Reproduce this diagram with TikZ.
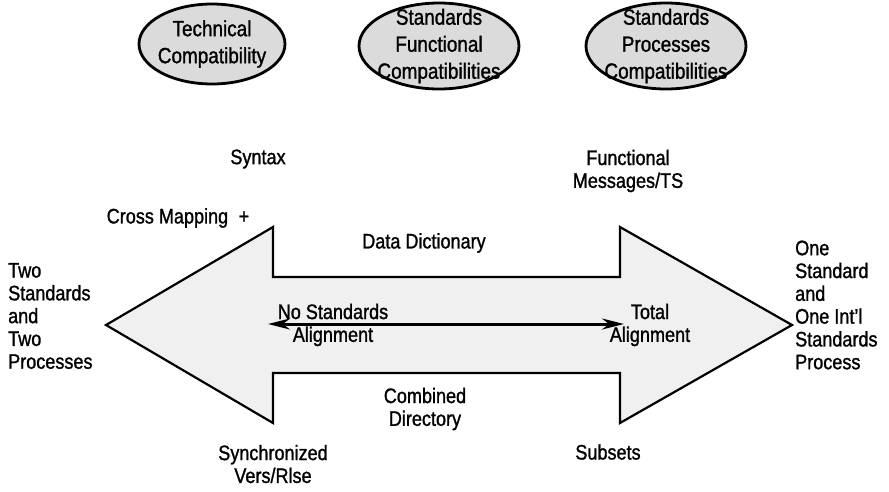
\documentclass[tikz,border=0pt]{standalone}
\usepackage{fontspec}
\setmainfont{Liberation Sans}[FakeStretch=0.86, UprightFeatures={FakeBold=1.2}]
\usetikzlibrary{arrows.meta,shapes.geometric}
\begin{document}
\begin{tikzpicture}[x=1pt,y=-1pt,
  lbl/.style={font=\fontsize{21}{22.8}\selectfont, align=center, inner sep=0pt},
  lblw/.style={lbl, align=left, anchor=west},
  oval/.style={ellipse, draw, line width=2.8pt, fill=black!14, inner sep=0pt},
  otext/.style={font=\fontsize{22}{27}\selectfont, align=center, inner sep=0pt},
  bigarrow/.style={draw, line width=2.2pt, line join=miter, fill=black!6},
  thin/.style={line width=3pt, {Stealth[length=22pt,width=11pt]}-{Stealth[length=22pt,width=11pt]}}]
\useasboundingbox (0,0) rectangle (889,491);

% ellipses
\node[oval, minimum width=146pt, minimum height=80pt] (e1) at (212,44) {};
\node[otext] (t1) at (e1) {Technical\\Compatibility};
\node[oval, minimum width=160pt, minimum height=86pt] (e2) at (439,46) {};
\node[otext] (t2) at (e2) {Standards\\Functional\\Compatibilities};
\node[oval, minimum width=160pt, minimum height=86pt] (e3) at (666,46) {};
\node[otext] (t3) at (e3) {Standards\\Processes\\Compatibilities};

% big double arrow
\coordinate (ltip) at (106,325);
\coordinate (rtip) at (792,325);
\path[bigarrow] (ltip) -- (273,227) -- (273,277) -- (620,277) -- (620,227) -- (rtip)
  -- (620,423) -- (620,373) -- (273,373) -- (273,423) -- cycle;

% inner arrow
\coordinate (al) at (268,324);
\coordinate (ar) at (624,324);
\draw[thin] (al) -- (ar);

% labels
\node[lbl] (syn) at (258,159) {Syntax};
\node[lbl] (fun) at (628,171) {Functional\\Messages/TS};
\node[lbl] (cm) at (178,218) {Cross Mapping\enspace+};
\node[lbl] (dd) at (424,243) {Data Dictionary};
\node[lblw] (left) at (8,316) {Two\\Standards\\and\\Two\\Processes};
\node[lblw] (right) at (795,305) {One\\Standard\\and\\One Int'l\\Standards\\Process};
\node[lbl] (nsa) at (333,325) {No Standards\\Alignment};
\node[lbl] (ta) at (650,325) {Total\\Alignment};
\node[lbl] (cd) at (425,409) {Combined\\Directory};
\node[lbl] (sv) at (273,464) {Synchronized\\Vers/Rlse};
\node[lbl] (sub) at (608,452) {Subsets};
\end{tikzpicture}
\end{document}
